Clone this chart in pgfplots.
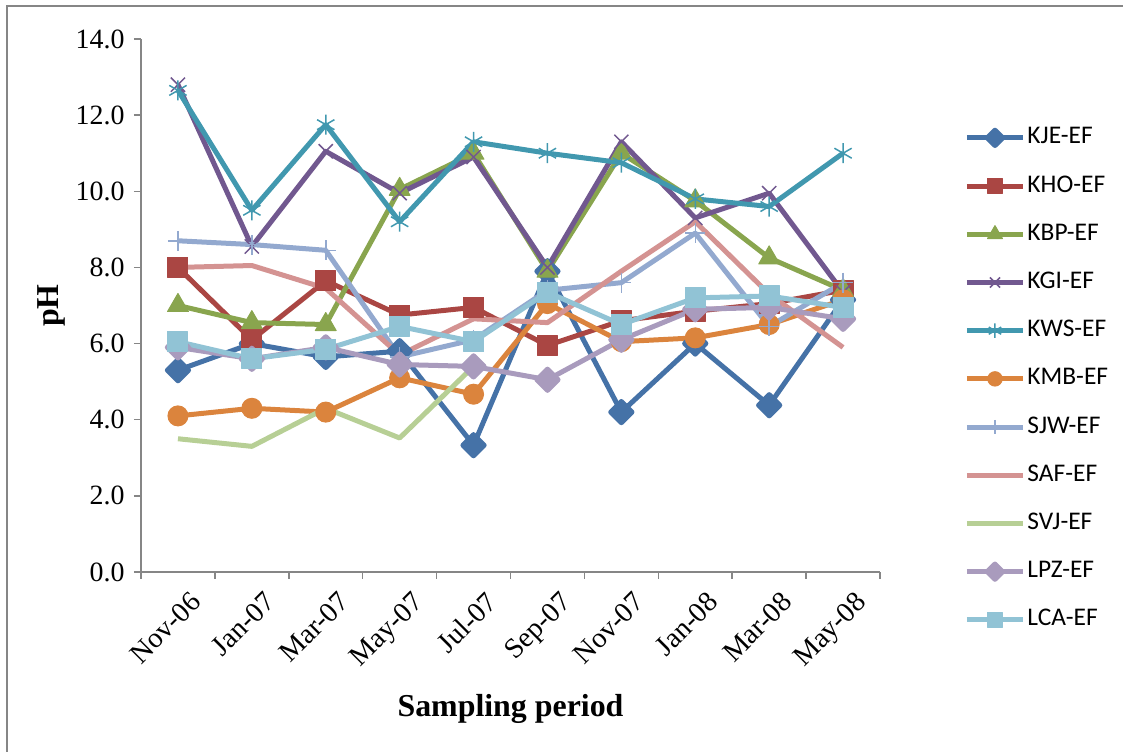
\documentclass[border=0pt]{standalone}
\usepackage{pgfplots}
\pgfplotsset{compat=1.18}
\usepackage{fontspec}
\setmainfont{Liberation Serif}
\newfontfamily\legfont{Carlito}
\definecolor{cKJE}{HTML}{4572A7}
\definecolor{cKHO}{HTML}{AA4643}
\definecolor{cKBP}{HTML}{89A54E}
\definecolor{cKGI}{HTML}{71588F}
\definecolor{cKWS}{HTML}{4198AF}
\definecolor{cKMB}{HTML}{DB843D}
\definecolor{cSJW}{HTML}{93A9CF}
\definecolor{cSAF}{HTML}{D49392}
\definecolor{cSVJ}{HTML}{B7CF95}
\definecolor{cLPZ}{HTML}{A99BBD}
\definecolor{cLCA}{HTML}{91C3D5}
\definecolor{axgray}{HTML}{868686}
\begin{document}
\begin{tikzpicture}
\begin{axis}[
  at={(141bp,180bp)}, anchor=south west,
  scale only axis, width=739bp, height=533bp,
  xmin=0, xmax=10, ymin=0, ymax=14,
  axis x line*=bottom, axis y line*=left,
  axis line style={draw=axgray, line width=1.5bp, -},
  xtick={0,1,...,10},
  x tick label as interval,
  xticklabels={Nov-06,Jan-07,Mar-07,May-07,Jul-07,Sep-07,Nov-07,Jan-08,Mar-08,May-08},
  xticklabel style={rotate=45, anchor=north east, font=\fontsize{28.5}{28.5}\selectfont, inner sep=1bp, xshift=1bp, yshift=-15bp},
  ytick={0,2,...,14},
  yticklabel style={font=\fontsize{28}{28}\selectfont, xshift=-6bp, /pgf/number format/fixed, /pgf/number format/fixed zerofill, /pgf/number format/precision=1},
  /pgf/number format/assume math mode=true,
  tick align=outside, major tick length=7bp,
  tick style={draw=axgray, line width=1.5bp},
  xlabel={\textbf{Sampling period}},
  xlabel style={font=\fontsize{32}{32}\selectfont, yshift=-18bp},
  ylabel={\textbf{pH}},
  ylabel style={font=\fontsize{32}{32}\selectfont, yshift=4bp},
  clip=false,
  every axis plot/.append style={line width=5bp, line join=round, mark options={solid, line width=1bp}},
  legend image code/.code={\draw[mark repeat=2,mark phase=2, every mark/.append style={scale=0.72}] plot coordinates {(0bp,0bp) (28bp,0bp) (56bp,0bp)};},
  legend cell align=left,
  legend style={at={(1.11,0.843)}, anchor=north west, draw=none, fill=none,
    font=\legfont\fontsize{25.5}{25.5}\selectfont, row sep=22.2bp,
    nodes={inner sep=2bp, text height=17bp, text depth=5bp}},
]
\addplot[color=cKJE, mark=square*, mark size=7.5bp, mark options={rotate=45}] coordinates {(0.5,5.3) (1.5,6.0) (2.5,5.65) (3.5,5.8) (4.5,3.33) (5.5,7.9) (6.5,4.2) (7.5,6.0) (8.5,4.38) (9.5,7.15)};
\addlegendentry{KJE-EF}
\addplot[color=cKHO, mark=square*, mark size=10bp] coordinates {(0.5,8.0) (1.5,6.1) (2.5,7.65) (3.5,6.75) (4.5,6.95) (5.5,5.95) (6.5,6.6) (7.5,6.85) (8.5,7.05) (9.5,7.4)};
\addlegendentry{KHO-EF}
\addplot[color=cKBP, mark=triangle*, mark size=12bp] coordinates {(0.5,7.0) (1.5,6.55) (2.5,6.5) (3.5,10.05) (4.5,11.0) (5.5,7.9) (6.5,11.0) (7.5,9.75) (8.5,8.25) (9.5,7.4)};
\addlegendentry{KBP-EF}
\addplot[color=cKGI, mark=x, mark size=10bp, mark options={line width=1.5bp}] coordinates {(0.5,12.8) (1.5,8.55) (2.5,11.05) (3.5,9.95) (4.5,10.9) (5.5,8.0) (6.5,11.3) (7.5,9.3) (8.5,9.95) (9.5,7.35)};
\addlegendentry{KGI-EF}
\addplot[color=cKWS, mark=asterisk, mark size=10bp, mark options={line width=1.5bp}] coordinates {(0.5,12.65) (1.5,9.5) (2.5,11.75) (3.5,9.2) (4.5,11.3) (5.5,11.0) (6.5,10.75) (7.5,9.8) (8.5,9.6) (9.5,11.0)};
\addlegendentry{KWS-EF}
\addplot[color=cKMB, mark=*, mark size=10bp] coordinates {(0.5,4.1) (1.5,4.3) (2.5,4.2) (3.5,5.1) (4.5,4.67) (5.5,7.05) (6.5,6.05) (7.5,6.15) (8.5,6.5) (9.5,7.15)};
\addlegendentry{KMB-EF}
\addplot[color=cSJW, mark=+, mark size=10bp, mark options={line width=1.5bp}] coordinates {(0.5,8.7) (1.5,8.6) (2.5,8.45) (3.5,5.65) (4.5,6.1) (5.5,7.4) (6.5,7.6) (7.5,8.9) (8.5,6.45) (9.5,7.6)};
\addlegendentry{SJW-EF}
\addplot[color=cSAF, mark=none] coordinates {(0.5,8.0) (1.5,8.05) (2.5,7.45) (3.5,5.7) (4.5,6.65) (5.5,6.55) (6.5,7.9) (7.5,9.2) (8.5,7.3) (9.5,5.9)};
\addlegendentry{SAF-EF}
\addplot[color=cSVJ, mark=none] coordinates {(0.5,3.5) (1.5,3.3) (2.5,4.3) (3.5,3.52) (4.5,5.4)};
\addlegendentry{SVJ-EF}
\addplot[color=cLPZ, mark=square*, mark size=7.5bp, mark options={rotate=45}] coordinates {(0.5,5.9) (1.5,5.6) (2.5,5.9) (3.5,5.45) (4.5,5.4) (5.5,5.05) (6.5,6.1) (7.5,6.9) (8.5,6.95) (9.5,6.65)};
\addlegendentry{LPZ-EF}
\addplot[color=cLCA, mark=square*, mark size=10bp] coordinates {(0.5,6.05) (1.5,5.6) (2.5,5.85) (3.5,6.45) (4.5,6.05) (5.5,7.35) (6.5,6.5) (7.5,7.2) (8.5,7.25) (9.5,6.95)};
\addlegendentry{LCA-EF}
\end{axis}
\draw[axgray, line width=2bp] (7bp,0bp) -- (7bp,746bp) -- (1123bp,746bp);
\pgfresetboundingbox
\useasboundingbox (0bp,0bp) rectangle (1123bp,752bp);
\end{tikzpicture}
\end{document}
